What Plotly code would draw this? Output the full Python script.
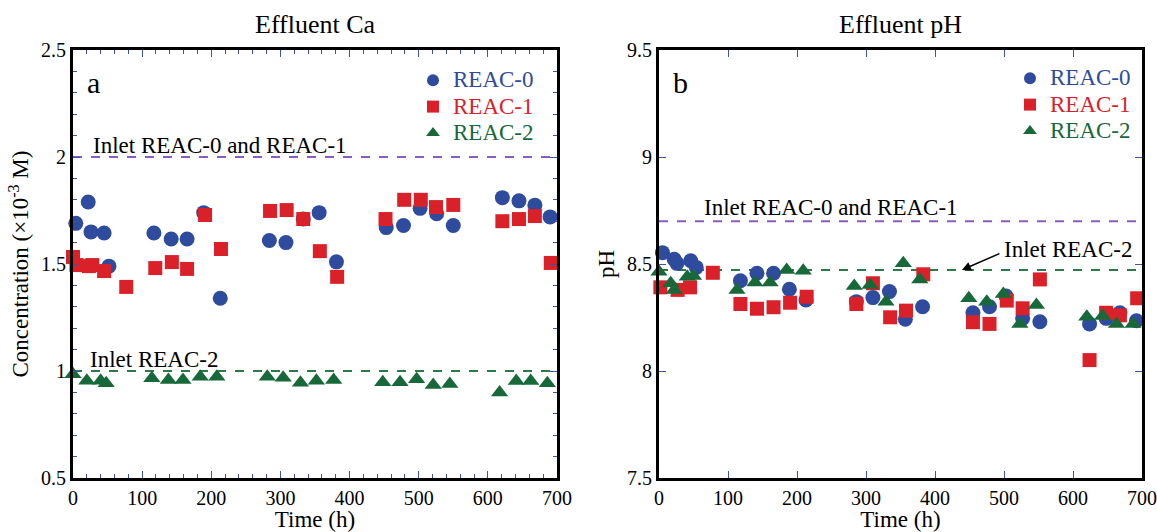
import plotly.graph_objects as go

# ---------------- Data: panel a (Effluent Ca, x10^-3 M) ----------------
ca0_t = [4, 22, 26, 45, 52, 117, 142, 165, 189, 213, 284, 308, 333, 356, 381, 453, 478, 502, 526, 550, 621, 645, 668, 690]
ca0_v = [1.69, 1.79, 1.65, 1.645, 1.49, 1.645, 1.617, 1.617, 1.74, 1.34, 1.61, 1.60, 1.71, 1.74, 1.51, 1.67, 1.68, 1.76, 1.735, 1.68, 1.81, 1.795, 1.775, 1.72]

ca1_t = [0, 5, 23, 28, 45, 77, 119, 143, 165, 191, 214, 285, 309, 333, 357, 382, 452, 479, 503, 525, 550, 621, 645, 668, 691]
ca1_v = [1.533, 1.495, 1.49, 1.495, 1.467, 1.393, 1.481, 1.509, 1.477, 1.729, 1.57, 1.748, 1.752, 1.71, 1.56, 1.44, 1.71, 1.80, 1.80, 1.766, 1.776, 1.70, 1.71, 1.724, 1.505]

ca2_t = [0, 20, 40, 48, 114, 138, 159, 184, 208, 281, 304, 329, 352, 377, 448, 473, 497, 521, 545, 617, 641, 662, 686]
ca2_v = [0.985, 0.955, 0.955, 0.943, 0.966, 0.958, 0.958, 0.973, 0.973, 0.973, 0.969, 0.945, 0.955, 0.958, 0.947, 0.947, 0.961, 0.935, 0.939, 0.90, 0.953, 0.953, 0.943]

ca_inlet_01 = 2.0
ca_inlet_2 = 1.0

# ---------------- Data: panel b (Effluent pH) ----------------
ph0_t = [5, 22, 26, 46, 54, 118, 142, 166, 189, 213, 286, 310, 334, 357, 382, 455, 479, 503, 527, 552, 624, 648, 668, 692]
ph0_v = [8.553, 8.522, 8.503, 8.515, 8.484, 8.422, 8.457, 8.457, 8.382, 8.332, 8.324, 8.343, 8.371, 8.242, 8.30, 8.272, 8.30, 8.35, 8.246, 8.23, 8.22, 8.246, 8.272, 8.235]

ph1_t = [2, 27, 45, 78, 118, 142, 166, 190, 214, 286, 310, 335, 358, 383, 455, 479, 504, 527, 552, 624, 648, 668, 693]
ph1_v = [8.391, 8.379, 8.391, 8.459, 8.313, 8.291, 8.298, 8.319, 8.347, 8.313, 8.41, 8.251, 8.282, 8.452, 8.228, 8.22, 8.329, 8.293, 8.428, 8.051, 8.272, 8.26, 8.34]

ph2_t = [0, 17, 22, 41, 50, 113, 139, 161, 185, 209, 283, 306, 329, 354, 378, 449, 475, 499, 523, 547, 620, 643, 663, 687]
ph2_v = [8.464, 8.41, 8.379, 8.441, 8.444, 8.379, 8.413, 8.413, 8.472, 8.469, 8.397, 8.402, 8.324, 8.503, 8.428, 8.34, 8.324, 8.36, 8.22, 8.308, 8.254, 8.257, 8.22, 8.22]

ph_inlet_01 = 8.7
ph_inlet_2 = 8.472

t_range = [0, 700]

series_names = ["REAC-0", "REAC-1", "REAC-2"]
BLUE = "#2F4B9E"
RED = "#DA2129"
GREEN = "#17693A"
PURPLE = "#8A5CC0"
DGREEN = "#2C7A48"
TICKC = "#3A55A8"
FONT = "Liberation Serif"

colors = [BLUE, RED, GREEN]
symbols = ["circle", "square", "triangle-up"]
sizes = [15, 14, 15]

fig = go.Figure()

def add_panel(xa, ya, legend, ts, vs, inl01, inl2):
    fig.add_trace(go.Scatter(x=t_range, y=[inl01, inl01], mode="lines",
                             line=dict(color=PURPLE, width=2, dash="dash"),
                             xaxis=xa, yaxis=ya, showlegend=False, hoverinfo="skip"))
    fig.add_trace(go.Scatter(x=t_range, y=[inl2, inl2], mode="lines",
                             line=dict(color=DGREEN, width=2, dash="dash"),
                             xaxis=xa, yaxis=ya, showlegend=False, hoverinfo="skip"))
    for i in range(3):
        fig.add_trace(go.Scatter(
            x=ts[i], y=vs[i], mode="markers",
            name='<span style="color:%s;font-size:23px">%s</span>' % (colors[i], series_names[i]),
            marker=dict(symbol=symbols[i], size=sizes[i], color=colors[i],
                        line=dict(width=0)),
            xaxis=xa, yaxis=ya, legend=legend, cliponaxis=False))

add_panel("x", "y", "legend", [ca0_t, ca1_t, ca2_t], [ca0_v, ca1_v, ca2_v], ca_inlet_01, ca_inlet_2)
add_panel("x2", "y2", "legend2", [ph0_t, ph1_t, ph2_t], [ph0_v, ph1_v, ph2_v], ph_inlet_01, ph_inlet_2)

TICK_FS = 20
TITLE_FS = 23

def xaxis_cfg(domain, minor):
    d = dict(domain=domain, range=t_range, dtick=100, tick0=0,
             ticks="inside", ticklen=7, tickwidth=1, tickcolor=TICKC,
             showline=True, linecolor="black", linewidth=3, mirror="ticks",
             showgrid=False, zeroline=False,
             tickfont=dict(family=FONT, size=TICK_FS, color="black"),
             title=dict(text="Time (h)", font=dict(family=FONT, size=TITLE_FS, color="black"), standoff=0),
             automargin=False)
    if minor:
        d["minor"] = dict(dtick=20, ticks="inside", ticklen=4, tickcolor=TICKC, tickwidth=1, showgrid=False)
    return d

def yaxis_cfg(domain, rng, title, minor, anchor):
    d = dict(domain=domain, range=rng, dtick=0.5, tick0=0,
             ticks="inside", ticklen=7, tickwidth=1, tickcolor=TICKC,
             showline=True, linecolor="black", linewidth=3, mirror="ticks",
             showgrid=False, zeroline=False, anchor=anchor,
             tickfont=dict(family=FONT, size=TICK_FS, color="black"),
             title=dict(text=title, font=dict(family=FONT, size=TITLE_FS, color="black"), standoff=6),
             automargin=False)
    if minor:
        d["minor"] = dict(dtick=0.1, ticks="inside", ticklen=4, tickcolor=TICKC, tickwidth=1, showgrid=False)
    return d

ydom = [1 - 478 / 532, 1 - 50 / 532]
LEG_FS = 18

fig.update_layout(
    width=1157, height=532,
    margin=dict(l=0, r=0, t=0, b=0),
    paper_bgcolor="white", plot_bgcolor="white",
    font=dict(family=FONT, color="black"),
    xaxis=xaxis_cfg([73 / 1157, 557 / 1157], True),
    yaxis=yaxis_cfg(ydom, [0.5, 2.5], "Concentration (×10<sup>-3</sup> M)", True, "x"),
    xaxis2=dict(xaxis_cfg([659 / 1157, 1142 / 1157], False), anchor="y2"),
    yaxis2=yaxis_cfg(ydom, [7.5, 9.5], "pH", False, "x2"),
    legend=dict(x=413 / 1157, y=1 - 62 / 532, xanchor="left", yanchor="top",
                bgcolor="rgba(0,0,0,0)", font=dict(family=FONT, size=LEG_FS),
                itemsizing="constant", tracegroupgap=0, itemwidth=30),
    legend2=dict(x=1010 / 1157, y=1 - 60 / 532, xanchor="left", yanchor="top",
                 bgcolor="rgba(0,0,0,0)", font=dict(family=FONT, size=LEG_FS),
                 itemsizing="constant", tracegroupgap=0, itemwidth=30),
    showlegend=True,
)

ann_font = dict(family=FONT, size=TITLE_FS, color="black")
annotations = [
    dict(text="Effluent Ca", x=(73 + 557) / 2 / 1157, y=1 - 24 / 532, xref="paper", yref="paper",
         xanchor="center", yanchor="middle", showarrow=False,
         font=dict(family=FONT, size=26, color="black")),
    dict(text="Effluent pH", x=(659 + 1142) / 2 / 1157, y=1 - 24 / 532, xref="paper", yref="paper",
         xanchor="center", yanchor="middle", showarrow=False,
         font=dict(family=FONT, size=26, color="black")),
    dict(text="a", x=17, y=2.35, xref="x", yref="y", xanchor="left", showarrow=False,
         font=dict(family=FONT, size=30, color="black")),
    dict(text="b", x=17, y=9.35, xref="x2", yref="y2", xanchor="left", showarrow=False,
         font=dict(family=FONT, size=30, color="black")),
    dict(text="Inlet REAC-0 and REAC-1", x=26, y=ca_inlet_01, xref="x", yref="y", xanchor="left",
         yanchor="bottom", yshift=-3, showarrow=False, font=ann_font),
    dict(text="Inlet REAC-2", x=22, y=ca_inlet_2, xref="x", yref="y", xanchor="left",
         yanchor="bottom", yshift=-3, showarrow=False, font=ann_font),
    dict(text="Inlet REAC-0 and REAC-1", x=63, y=ph_inlet_01, xref="x2", yref="y2", xanchor="left",
         yanchor="bottom", yshift=-1, showarrow=False, font=ann_font),
    dict(text="Inlet REAC-2", x=497, y=ph_inlet_2, xref="x2", yref="y2", xanchor="left",
         yanchor="bottom", yshift=6, showarrow=False, font=ann_font),
    dict(text="", x=439, y=ph_inlet_2, xref="x2", yref="y2", showarrow=True,
         ax=39, ay=-17, arrowhead=2, arrowsize=1.2, arrowwidth=1.5, arrowcolor="black", standoff=0),
]
fig.update_layout(annotations=annotations)

fig.write_html("out.html", config={"displayModeBar": False},
               post_script="document.body.style.margin='0';document.body.style.overflow='hidden';")
